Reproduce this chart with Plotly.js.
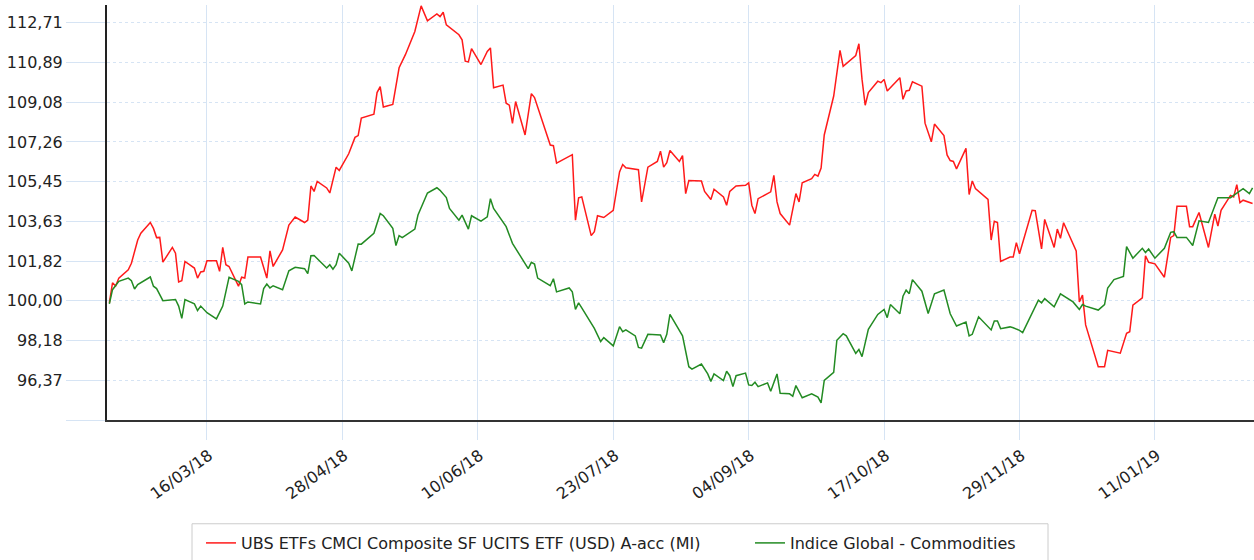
<!DOCTYPE html>
<html>
<head>
<meta charset="utf-8">
<script src="https://cdn.plot.ly/plotly-3.0.1.min.js"></script>
<style>
  html, body { margin: 0; padding: 0; background: #ffffff; }
  #chart { width: 1254px; height: 560px; }
</style>
</head>
<body>
<div id="chart"></div>
<script>
// ---- Data ----
const fundName = "UBS ETFs CMCI Composite SF UCITS ETF (USD) A-acc (MI)";
const indexName = "Indice Global - Commodities";

const fundDates = [
"2018-02-13","2018-02-14","2018-02-15","2018-02-16","2018-02-19","2018-02-20","2018-02-22","2018-02-23","2018-02-26","2018-02-27","2018-02-28",
"2018-03-01","2018-03-02","2018-03-05","2018-03-06","2018-03-07","2018-03-08","2018-03-09","2018-03-12","2018-03-13","2018-03-14","2018-03-15",
"2018-03-16","2018-03-19","2018-03-20","2018-03-21","2018-03-22","2018-03-23","2018-03-26","2018-03-27","2018-03-28","2018-03-29",
"2018-04-02","2018-04-04","2018-04-05","2018-04-06","2018-04-09","2018-04-11","2018-04-13","2018-04-16","2018-04-17","2018-04-18","2018-04-19",
"2018-04-20","2018-04-23","2018-04-24","2018-04-26","2018-04-27","2018-04-30",
"2018-05-02","2018-05-03","2018-05-04","2018-05-08","2018-05-09","2018-05-10","2018-05-11","2018-05-14","2018-05-16","2018-05-18","2018-05-21",
"2018-05-23","2018-05-25","2018-05-28","2018-05-29","2018-05-30","2018-05-31",
"2018-06-04","2018-06-05","2018-06-06","2018-06-07","2018-06-08","2018-06-11","2018-06-13","2018-06-14","2018-06-15","2018-06-18","2018-06-19",
"2018-06-20","2018-06-21","2018-06-22","2018-06-25","2018-06-27","2018-06-28",
"2018-07-03","2018-07-04","2018-07-05","2018-07-10","2018-07-11","2018-07-12","2018-07-13","2018-07-16","2018-07-17","2018-07-18","2018-07-20",
"2018-07-23","2018-07-25","2018-07-26","2018-07-27","2018-07-31",
"2018-08-01","2018-08-03","2018-08-06","2018-08-07","2018-08-08","2018-08-09","2018-08-10","2018-08-13","2018-08-14","2018-08-15","2018-08-16",
"2018-08-20","2018-08-21","2018-08-23","2018-08-24","2018-08-27","2018-08-28","2018-08-29","2018-08-31",
"2018-09-03","2018-09-04","2018-09-05","2018-09-06","2018-09-07","2018-09-11","2018-09-12","2018-09-13","2018-09-14","2018-09-17","2018-09-19",
"2018-09-20","2018-09-21","2018-09-24","2018-09-25","2018-09-26","2018-09-27","2018-09-28",
"2018-10-01","2018-10-03","2018-10-04","2018-10-08","2018-10-09","2018-10-10","2018-10-11","2018-10-12","2018-10-15","2018-10-16","2018-10-17",
"2018-10-18","2018-10-22","2018-10-23","2018-10-24","2018-10-25","2018-10-26","2018-10-29","2018-10-30",
"2018-11-01","2018-11-02","2018-11-05","2018-11-06","2018-11-07","2018-11-08","2018-11-09","2018-11-12","2018-11-13","2018-11-14","2018-11-15",
"2018-11-19","2018-11-20","2018-11-21","2018-11-22","2018-11-23","2018-11-26","2018-11-27","2018-11-28","2018-11-29",
"2018-12-03","2018-12-04","2018-12-06","2018-12-07","2018-12-10","2018-12-11","2018-12-12","2018-12-13","2018-12-17","2018-12-18","2018-12-19",
"2018-12-20","2018-12-24","2018-12-26","2018-12-27","2018-12-31",
"2019-01-02","2019-01-03","2019-01-04","2019-01-07","2019-01-08","2019-01-09","2019-01-11","2019-01-14","2019-01-16","2019-01-17","2019-01-18",
"2019-01-21","2019-01-22","2019-01-23","2019-01-25","2019-01-28","2019-01-30","2019-01-31",
"2019-02-01","2019-02-04","2019-02-05","2019-02-06","2019-02-07","2019-02-08","2019-02-11"
];
const fundValues = [
99.91,100.82,100.68,101.04,101.42,101.72,102.78,103.09,103.58,103.31,102.89,
102.90,101.77,102.44,102.18,100.86,100.92,101.80,101.50,101.04,101.32,101.35,
101.83,101.83,101.35,102.44,101.65,101.57,100.67,101.08,101.04,102.00,
102.00,101.04,102.28,101.57,102.33,103.46,103.83,103.58,103.69,105.25,105.00,
105.46,105.16,104.93,106.11,105.96,106.72,
107.47,107.55,108.35,108.53,109.52,109.79,108.86,108.98,110.65,111.25,112.31,
113.48,112.80,113.11,112.99,113.19,112.61,
112.16,111.93,110.95,110.92,111.53,110.80,111.40,111.56,109.74,109.86,109.03,
108.94,108.11,109.11,107.58,109.47,109.29,
107.12,107.09,106.29,106.68,103.69,104.71,104.75,102.98,103.16,103.89,103.81,
104.14,105.89,106.23,106.08,105.99,
104.52,106.11,106.37,106.84,106.11,106.31,106.87,106.37,106.64,104.90,105.50,
105.48,105.00,104.63,105.10,104.75,104.37,105.00,105.25,
105.28,105.39,104.37,103.99,104.67,104.98,105.73,104.52,103.99,103.46,104.90,
104.52,105.40,105.58,105.78,105.70,106.07,107.58,
109.36,111.45,110.72,111.21,111.75,110.12,108.94,109.52,110.04,109.97,110.12,
109.59,110.20,109.21,109.59,109.62,110.01,109.81,108.12,
107.27,108.08,107.55,106.67,106.41,106.37,106.03,106.97,104.86,105.48,105.13,
104.64,102.78,103.64,103.58,101.80,102.00,102.00,102.66,102.15,
104.14,104.12,102.37,103.72,102.44,103.28,102.86,103.57,102.28,99.95,100.26,
98.90,96.99,96.99,97.74,97.61,
98.52,98.59,99.80,100.14,102.06,101.76,101.69,101.08,102.90,102.98,104.32,
104.32,103.39,103.39,104.04,102.44,103.96,103.42,
104.14,104.82,104.75,105.31,104.49,104.60,104.45
];

const indexDates = [
"2018-02-13","2018-02-14","2018-02-16","2018-02-19","2018-02-20","2018-02-21","2018-02-22","2018-02-23","2018-02-26","2018-02-27","2018-02-28",
"2018-03-02","2018-03-06","2018-03-07","2018-03-08","2018-03-09","2018-03-12","2018-03-13","2018-03-14","2018-03-16","2018-03-19","2018-03-21",
"2018-03-22","2018-03-23","2018-03-26","2018-03-27","2018-03-28","2018-03-29",
"2018-04-02","2018-04-03","2018-04-04","2018-04-05","2018-04-06","2018-04-09","2018-04-11","2018-04-13","2018-04-16","2018-04-17","2018-04-18",
"2018-04-19","2018-04-23","2018-04-24","2018-04-25","2018-04-26","2018-04-27","2018-04-30",
"2018-05-01","2018-05-03","2018-05-04","2018-05-08","2018-05-10","2018-05-11","2018-05-14","2018-05-15","2018-05-16","2018-05-17","2018-05-21",
"2018-05-22","2018-05-25","2018-05-28","2018-05-29","2018-05-31",
"2018-06-01","2018-06-04","2018-06-05","2018-06-07","2018-06-08","2018-06-11","2018-06-13","2018-06-14","2018-06-15","2018-06-19","2018-06-21",
"2018-06-26","2018-06-27","2018-06-28","2018-06-29",
"2018-07-03","2018-07-04","2018-07-05","2018-07-09","2018-07-10","2018-07-11","2018-07-12","2018-07-13","2018-07-17","2018-07-19","2018-07-20",
"2018-07-23","2018-07-25","2018-07-26","2018-07-27","2018-07-30","2018-07-31",
"2018-08-01","2018-08-03","2018-08-07","2018-08-08","2018-08-09","2018-08-10","2018-08-14","2018-08-16","2018-08-17","2018-08-20","2018-08-22",
"2018-08-23","2018-08-24","2018-08-27","2018-08-28","2018-08-29","2018-08-30","2018-08-31",
"2018-09-03","2018-09-04","2018-09-05","2018-09-06","2018-09-07","2018-09-10","2018-09-11","2018-09-13","2018-09-14","2018-09-17","2018-09-18",
"2018-09-19","2018-09-21","2018-09-24","2018-09-26","2018-09-27","2018-09-28",
"2018-10-01","2018-10-02","2018-10-04","2018-10-05","2018-10-08","2018-10-09","2018-10-10","2018-10-12","2018-10-15","2018-10-17","2018-10-18",
"2018-10-19","2018-10-22","2018-10-23","2018-10-24","2018-10-25","2018-10-26","2018-10-29","2018-10-31",
"2018-11-02","2018-11-05","2018-11-07","2018-11-09","2018-11-12","2018-11-13","2018-11-14","2018-11-16","2018-11-20","2018-11-21","2018-11-22",
"2018-11-23","2018-11-26","2018-11-27","2018-11-29","2018-11-30",
"2018-12-05","2018-12-06","2018-12-07","2018-12-10","2018-12-12","2018-12-16","2018-12-18","2018-12-19","2018-12-20","2018-12-24","2018-12-26",
"2018-12-27","2018-12-29",
"2019-01-01","2019-01-02","2019-01-04","2019-01-07","2019-01-08","2019-01-09","2019-01-11","2019-01-14","2019-01-16","2019-01-17","2019-01-18",
"2019-01-21","2019-01-23","2019-01-25","2019-01-28","2019-01-31",
"2019-02-04","2019-02-05","2019-02-08","2019-02-10","2019-02-11"
];
const indexValues = [
99.86,100.51,100.89,101.04,100.92,100.54,100.74,100.82,101.09,100.67,100.56,
100.01,100.06,99.76,99.20,100.06,99.86,99.56,99.76,99.46,99.18,99.76,
100.36,101.08,100.89,100.74,99.86,99.95,
99.86,100.56,100.77,100.59,100.69,100.51,101.37,101.53,101.47,101.24,102.06,
102.07,101.50,101.65,101.45,101.65,102.18,101.72,
101.37,102.60,102.59,103.09,103.99,103.89,103.31,102.53,102.98,102.89,103.28,
103.92,104.93,105.17,105.05,104.72,
104.22,103.69,103.92,103.28,103.89,103.64,103.84,104.67,104.22,103.39,102.63,
101.47,101.76,101.68,101.04,
100.69,101.01,100.41,100.59,100.41,99.61,99.91,99.68,98.74,98.14,98.32,
97.94,98.82,98.59,98.67,98.40,97.87,
97.84,98.47,98.44,98.09,98.47,99.38,98.40,96.99,96.88,97.11,96.66,
96.32,96.66,96.36,96.78,96.58,96.08,96.58,
96.70,96.16,96.13,96.28,96.08,96.25,95.87,96.66,95.78,95.75,95.64,
96.13,95.57,95.75,95.60,95.34,96.36,
96.73,98.20,98.50,98.40,97.60,97.78,97.45,98.70,99.38,99.61,99.23,
99.83,99.41,100.21,100.49,100.33,100.97,100.44,99.42,
100.32,100.49,99.41,98.85,99.03,98.40,98.47,99.27,98.67,99.08,99.08,
98.73,98.81,98.77,98.65,98.55,
100.03,99.91,100.10,99.73,100.32,99.95,99.61,99.83,99.76,99.58,99.83,
100.59,100.97,
101.12,102.48,101.95,102.40,102.21,102.37,101.95,102.40,103.13,103.16,102.90,
102.90,102.53,103.66,103.58,104.71,
104.71,104.82,105.13,104.90,105.16
];

// Axis ticks
const yTickValues = [94.555, 96.37, 98.185, 100.00, 101.815, 103.63, 105.445, 107.26, 109.075, 110.89, 112.705];
const yTickLabels = ["", "96,37", "98,18", "100,00", "101,82", "103,63", "105,45", "107,26", "109,08", "110,89", "112,71"];
const xTickValues = ["2018-03-16","2018-04-28","2018-06-10","2018-07-23","2018-09-04","2018-10-17","2018-11-29","2019-01-11"];
const xTickLabels = ["16/03/18","28/04/18","10/06/18","23/07/18","04/09/18","17/10/18","29/11/18","11/01/19"];

// ---- Chart ----
const gridBlue = "#d6e4f4";
const FONT = "DejaVu Sans, Verdana, sans-serif";
const TEXT = "#222222";

const traces = [
  { type: "scatter", mode: "lines", name: fundName, x: fundDates, y: fundValues,
    line: { color: "#ff1a1a", width: 1.5 }, legend: "legend" },
  { type: "scatter", mode: "lines", name: indexName, x: indexDates, y: indexValues,
    line: { color: "#238b23", width: 1.5 }, legend: "legend2" }
];

// plot area: x 107..1254 (1147 px), y 5..423 (418 px)
const PW = 1147, PH = 418, PL = 107, PB = 423;
const px = (v) => (v - PL) / PW;
const py = (v) => (PB - v) / PH;

const legendCommon = {
  orientation: "h", xanchor: "left", yanchor: "top",
  borderwidth: 0, bgcolor: "rgba(0,0,0,0)",
  font: { family: FONT, size: 16, color: TEXT }, itemwidth: 30
};

const layout = {
  width: 1254, height: 560,
  margin: { l: 107, r: 0, t: 5, b: 137, pad: 0 },
  paper_bgcolor: "#ffffff", plot_bgcolor: "#ffffff",
  font: { family: FONT, size: 16, color: TEXT },
  showlegend: true,
  legend: Object.assign({}, legendCommon, { x: px(201), y: py(530) }),
  legend2: Object.assign({}, legendCommon, { x: px(750), y: py(530) }),
  shapes: [
    { type: "rect", xref: "paper", yref: "paper",
      x0: px(192), x1: px(1048), y0: py(575), y1: py(527.5),
      line: { color: "#cccccc", width: 1 }, fillcolor: "rgba(0,0,0,0)", layer: "below" }
  ],
  xaxis: {
    type: "date",
    range: ["2018-02-12 06:00", "2019-02-11 11:00"],
    tickmode: "array", tickvals: xTickValues, ticktext: xTickLabels,
    tickangle: -36, ticklabelstandoff: 0, ticklabelshift: 2,
    ticks: "outside", ticklen: 18, tickwidth: 1, tickcolor: gridBlue,
    showgrid: true, gridcolor: gridBlue, gridwidth: 1,
    showline: true, linecolor: "#333333", linewidth: 2,
    zeroline: false, fixedrange: true,
    tickfont: { family: FONT, size: 16, color: TEXT }
  },
  yaxis: {
    range: [94.555, 113.52],
    tickmode: "array", tickvals: yTickValues, ticktext: yTickLabels,
    ticks: "outside", ticklen: 39, tickwidth: 1, tickcolor: gridBlue,
    showgrid: true, gridcolor: gridBlue, gridwidth: 1, griddash: "dot",
    showline: true, linecolor: "#222222", linewidth: 2,
    zeroline: false, fixedrange: true,
    tickfont: { family: FONT, size: 16, color: TEXT }
  }
};

Plotly.newPlot("chart", traces, layout, { displayModeBar: false, staticPlot: true });
</script>
</body>
</html>
